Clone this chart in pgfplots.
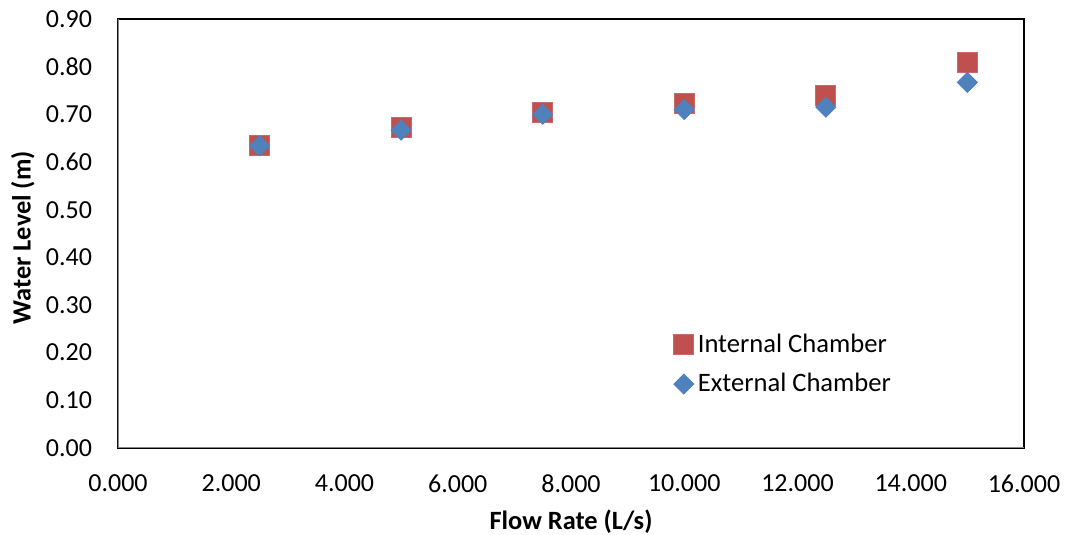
\documentclass[border=0pt]{standalone}
\usepackage{pgfplots}
\pgfplotsset{compat=1.18}
\usepackage{fontspec}
\setmainfont{Carlito}
\definecolor{exred}{HTML}{C0504D}
\definecolor{exblue}{HTML}{4F81BD}
\definecolor{axgray}{HTML}{868686}
\begin{document}
\fontsize{13pt}{15pt}\selectfont
\begin{tikzpicture}
\begin{axis}[
  scale only axis,
  width=453pt, height=214.5pt,
  xmin=0, xmax=16, ymin=0, ymax=0.9,
  xtick={0,2,...,16},
  ytick={0,0.1,...,0.9},
  major tick length=0pt,
  axis line style={black, line width=0.8pt},
  /pgf/number format/assume math mode=true,
  xticklabel={\pgfmathprintnumber[fixed,fixed zerofill,precision=3]{\tick}},
  yticklabel={\pgfmathprintnumber[fixed,fixed zerofill,precision=2]{\tick}},
  ticklabel style={font=\fontsize{13pt}{15pt}\selectfont},
  yticklabel style={xshift=-8.5pt},
  xticklabel style={yshift=-9pt},
  xlabel={\textbf{Flow Rate (L/s)}},
  ylabel={\textbf{Water Level (m)}},
  label style={font=\fontsize{13.2pt}{15pt}\selectfont},
  xlabel style={at={(axis description cs:0.5,0)}, anchor=center, yshift=-37pt},
  ylabel style={at={(axis description cs:-0.105,0.49)}, anchor=center},
  legend style={draw=none, fill=none, at={(rel axis cs:0.613,0.277)}, anchor=north west,
    font=\fontsize{13.3pt}{15pt}\selectfont, row sep=4.5pt, inner sep=0pt,
    nodes={inner sep=2pt}},
  legend cell align=left,
]
\addplot[only marks, mark=square*, mark size=5pt, color=exred, mark options={fill=exred, draw=exred!85!white}] coordinates {
(2.5,0.635) (5,0.673) (7.5,0.705) (10,0.722) (12.5,0.740) (15,0.810)
};
\addlegendentry{Internal Chamber}
\addplot[only marks, mark=square*, mark size=3.54pt, color=exblue, mark options={fill=exblue, draw=exblue, rotate=45}] coordinates {
(2.5,0.634) (5,0.667) (7.5,0.700) (10,0.710) (12.5,0.715) (15,0.767)
};
\addlegendentry{External Chamber}
\draw[axgray, line width=1.3pt] (rel axis cs:0,1) -- (rel axis cs:0,0) -- (rel axis cs:1,0);
\end{axis}
\pgfresetboundingbox
\path (-59pt,-43.5pt) rectangle (474pt,224pt);
\end{tikzpicture}
\end{document}
